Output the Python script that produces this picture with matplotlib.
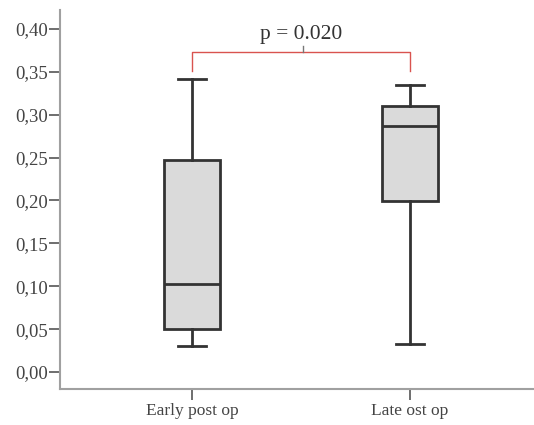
import matplotlib
matplotlib.use("Agg")
import matplotlib.pyplot as plt

# Summary statistics for each group (whisker low, Q1, median, Q3, whisker high)
groups = ["Early post op", "Late ost op"]
whislo = [0.030, 0.033]
q1 = [0.050, 0.199]
med = [0.103, 0.287]
q3 = [0.247, 0.310]
whishi = [0.342, 0.335]
y_ticks = [0.00, 0.05, 0.10, 0.15, 0.20, 0.25, 0.30, 0.35, 0.40]
p_label = "p = 0.020"

plt.rcParams["font.family"] = ["Liberation Serif", "DejaVu Serif"]

fig = plt.figure(figsize=(5.34, 4.25), dpi=100)
ax = fig.add_axes([0.1124, 0.0847, 0.8876, 0.8918])

stats = []
for i, name in enumerate(groups):
    stats.append(dict(label=name, whislo=whislo[i], q1=q1[i], med=med[i],
                      q3=q3[i], whishi=whishi[i], fliers=[]))

edge = "#333333"
ax.bxp(stats, positions=[1, 2], widths=0.257, patch_artist=True,
       showfliers=False,
       boxprops=dict(facecolor="#dadada", edgecolor=edge, linewidth=2),
       medianprops=dict(color=edge, linewidth=2),
       whiskerprops=dict(color=edge, linewidth=2),
       capprops=dict(color=edge, linewidth=2),
       capwidths=0.13)

ax.set_xlim(0.394, 2.569)
ax.set_ylim(-0.0198, 0.422)
ax.set_yticks(y_ticks)
ax.set_yticklabels([f"{v:.2f}".replace(".", ",") for v in y_ticks])
ax.set_xticks([1, 2])
ax.set_xticklabels(groups)

for side in ("top", "right"):
    ax.spines[side].set_visible(False)
for side in ("left", "bottom"):
    ax.spines[side].set_color("#a0a0a0")
    ax.spines[side].set_linewidth(1.5)
ax.tick_params(axis="both", colors="#555555", labelcolor="#444444",
               length=8, width=1.2)
ax.tick_params(axis="y", pad=1, labelsize=13.5)
ax.tick_params(axis="x", pad=2, labelsize=12.5)

# significance bracket
red = "#d9534f"
yb = 0.373
ax.plot([1, 1, 2, 2], [0.351, yb, yb, 0.351], color=red, linewidth=1)
ax.plot([1.51, 1.51], [yb, 0.380], color="#777777", linewidth=1)
ax.text(1.5, 0.382, p_label, ha="center", va="bottom", fontsize=15.5,
        color="#333333")

fig.savefig("out.png", dpi=100)
